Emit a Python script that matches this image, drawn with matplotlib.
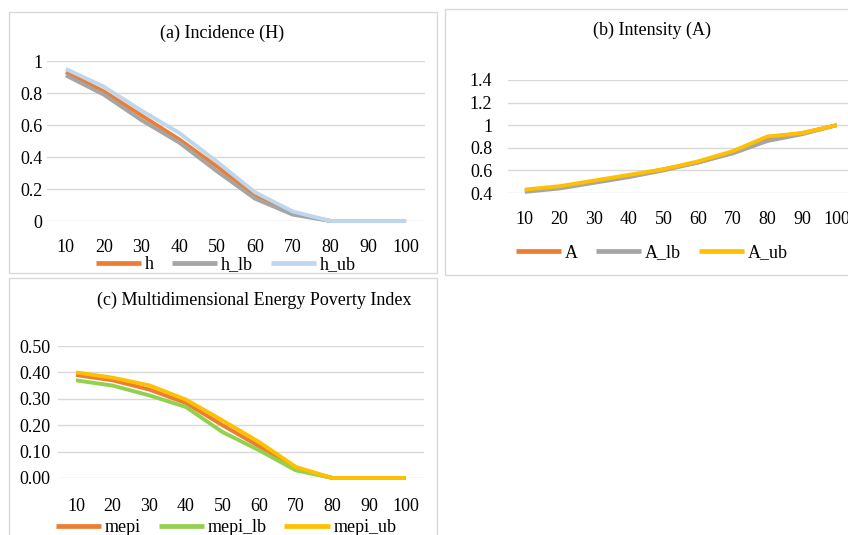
import matplotlib
matplotlib.use("Agg")
import matplotlib.pyplot as plt
from matplotlib.patches import Rectangle

plt.rcParams['font.family'] = ['Liberation Serif', 'DejaVu Serif']

# categories (x axis)
cats = ["10", "20", "30", "40", "50", "60", "70", "80", "90", "100"]

# (a) incidence
h = [0.93, 0.81, 0.66, 0.51, 0.34, 0.16, 0.05, 0.0, 0.0, 0.0]
h_lb = [0.91, 0.79, 0.63, 0.49, 0.31, 0.14, 0.04, 0.0, 0.0, 0.0]
h_ub = [0.95, 0.84, 0.69, 0.55, 0.37, 0.18, 0.06, 0.0, 0.0, 0.0]

# (b) intensity
A = [0.42, 0.45, 0.50, 0.55, 0.61, 0.67, 0.76, 0.89, 0.93, 1.0]
A_lb = [0.41, 0.44, 0.49, 0.54, 0.60, 0.67, 0.75, 0.86, 0.92, 1.0]
A_ub = [0.43, 0.46, 0.51, 0.56, 0.61, 0.68, 0.77, 0.90, 0.93, 1.0]

# (c) MEPI
mepi = [0.39, 0.37, 0.335, 0.284, 0.20, 0.12, 0.035, 0.0, 0.0, 0.0]
mepi_lb = [0.37, 0.35, 0.313, 0.269, 0.174, 0.105, 0.029, 0.0, 0.0, 0.0]
mepi_ub = [0.40, 0.38, 0.351, 0.297, 0.218, 0.136, 0.042, 0.0, 0.0, 0.0]

ORANGE = "#ED7D31"
GRAY = "#A5A5A5"
LBLUE = "#BDD7EE"
YELLOW = "#FFC000"
GREEN = "#92D050"
GRID = "#D9D9D9"

W, H = 848, 535
fig = plt.figure(figsize=(W / 100, H / 100), dpi=100)


def px_axes(x0, x1, y_top, y_bot):
    return fig.add_axes([x0 / W, 1 - y_bot / H, (x1 - x0) / W, (y_bot - y_top) / H])


def border(x0, y0, x1, y1):
    fig.patches.append(Rectangle((x0 / W, 1 - y1 / H), (x1 - x0) / W, (y1 - y0) / H,
                                 transform=fig.transFigure, fill=False,
                                 edgecolor=GRID, linewidth=1.0))


def panel(ax, series, ylim, yticks, yfmt, ypad, xpad):
    x = list(range(len(cats)))
    for vals, col, lab in series:
        ax.plot(x, vals, color=col, lw=2.8, label=lab, clip_on=False,
                solid_joinstyle="round", solid_capstyle="butt")
    ax.set_xlim(-0.5, len(cats) - 0.5)
    ax.set_ylim(*ylim)
    ax.set_yticks(yticks)
    ax.set_yticklabels([yfmt.format(v) for v in yticks])
    ax.set_xticks(x)
    ax.set_xticklabels(cats)
    for s in ax.spines.values():
        s.set_visible(False)
    ax.grid(axis="y", color=GRID, lw=1.0)
    ax.set_axisbelow(True)
    ax.tick_params(axis="both", length=0, labelsize=13)
    ax.tick_params(axis="y", pad=ypad)
    ax.tick_params(axis="x", pad=xpad)
    ax.patch.set_alpha(0)


def add_legend(ax, cx, cy):
    leg = fig.legend(*ax.get_legend_handles_labels(), loc="center",
                     bbox_to_anchor=(cx / W, 1 - cy / H), ncol=3, frameon=False,
                     fontsize=13, handlelength=2.5, handletextpad=0.2,
                     columnspacing=1.0, borderpad=0, borderaxespad=0)
    for ln in leg.get_lines():
        ln.set_linewidth(3.4)


border(9, 12, 437, 273)
border(445, 9, 860, 275)
border(9, 278, 437, 545)

ax1 = px_axes(47, 425, 61, 221)
panel(ax1, [(h, ORANGE, "h"), (h_lb, GRAY, "h_lb"), (h_ub, LBLUE, "h_ub")],
      (0, 1), [0, 0.2, 0.4, 0.6, 0.8, 1.0], "{:g}", 3.5, 13)
fig.text(222 / W, 1 - 33 / H, "(a) Incidence (H)", ha="center", va="center", fontsize=13)
add_legend(ax1, 226, 265)

ax2 = px_axes(507.5, 854, 80, 193)
panel(ax2, [(A, ORANGE, "A"), (A_lb, GRAY, "A_lb"), (A_ub, YELLOW, "A_ub")],
      (0.4, 1.4), [0.4, 0.6, 0.8, 1.0, 1.2, 1.4], "{:g}", 11, 13)
fig.text(652 / W, 1 - 30 / H, "(b) Intensity (A)", ha="center", va="center", fontsize=13)
add_legend(ax2, 652, 253)

ax3 = px_axes(57.7, 424, 346, 478)
panel(ax3, [(mepi, ORANGE, "mepi"), (mepi_lb, GREEN, "mepi_lb"), (mepi_ub, YELLOW, "mepi_ub")],
      (0, 0.5), [0, 0.1, 0.2, 0.3, 0.4, 0.5], "{:.2f}", 5, 14.5)
fig.text(254 / W, 1 - 300 / H, "(c) Multidimensional Energy Poverty Index", ha="center",
         va="center", fontsize=13)
add_legend(ax3, 226, 528)

fig.savefig("out.png", dpi=100)
